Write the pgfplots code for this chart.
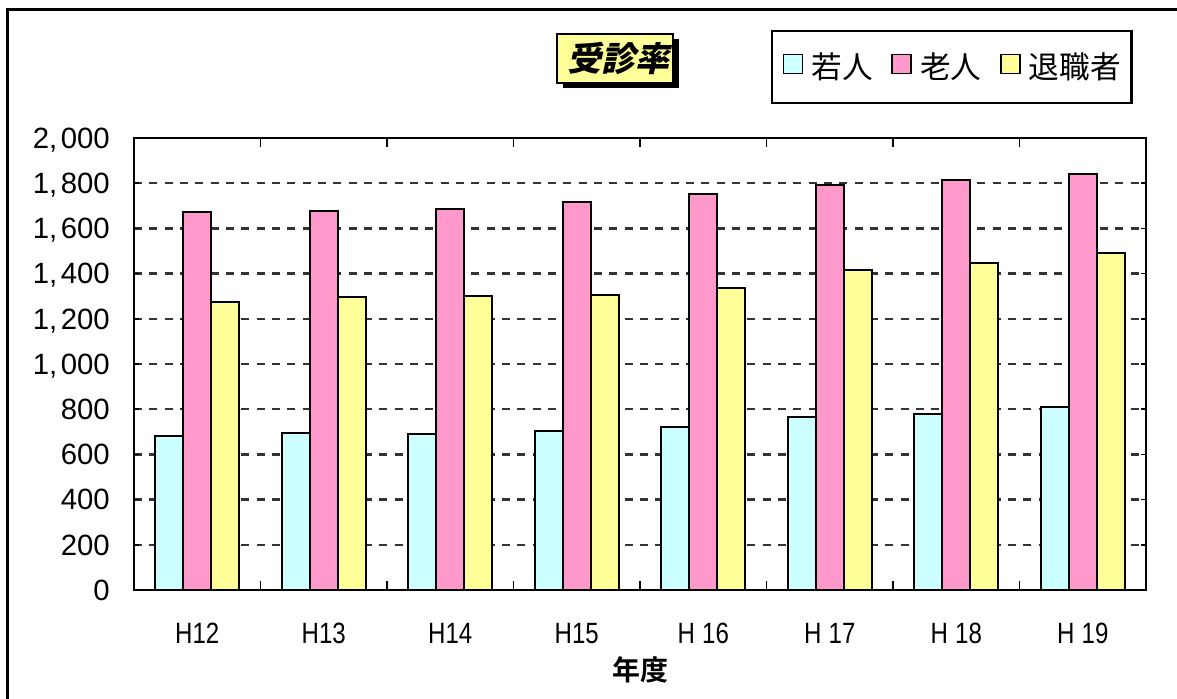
\documentclass[border=0pt]{standalone}
\usepackage{fontspec}
\usepackage{pgfplots}
\usepackage{pgfplotstable}
\pgfplotsset{compat=1.18}
\setmainfont{Liberation Sans}
\newfontfamily\cjk{Noto Sans CJK JP}
\newfontfamily\cjkb{Noto Sans CJK JP Bold}
\newfontfamily\cjkbi{Noto Sans CJK JP Black}[FakeSlant=0.22]
\newfontfamily\narrow{Liberation Sans}[FakeStretch=0.82]
\definecolor{cyanbar}{HTML}{CCFFFF}
\definecolor{pinkbar}{HTML}{FF99CC}
\definecolor{yellowbar}{HTML}{FFFF99}
\definecolor{gridgray}{HTML}{333333}

\pgfplotstableread{
idx young old retired
0 681 1671 1274
1 693 1677 1296
2 690 1686 1302
3 704 1716 1305
4 723 1754 1338
5 764 1794 1415
6 779 1815 1446
7 809 1840 1490
}\datatable

\newcommand{\cm}{,\hspace{0.12em}}
\begin{document}
\begin{tikzpicture}
\begin{scope}[x=0.75pt,y=-0.75pt]
\useasboundingbox (0,0) rectangle (1177,699);
\draw[line width=2.25pt] (7,720) -- (7,10) -- (1200,10);
\fill[black] (563,39) rectangle (679,88);
\draw[fill=yellowbar, line width=1.5pt] (557,34) rectangle (673,83);
\node at (618,58.5) {\cjkbi\fontsize{25.5pt}{27pt}\selectfont 受診率};
\end{scope}
\begin{axis}[
  at={(100.5pt,-442.5pt)}, anchor=south west,
  width=759pt, height=339pt, scale only axis,
  xmin=-0.5, xmax=7.5, ymin=0, ymax=2000,
  ybar, bar width=21pt,
  ytick={0,200,...,2000},
  yticklabels={0,200,400,600,800,{1\cm000},{1\cm200},{1\cm400},{1\cm600},{1\cm800},{2\cm000}},
  xtick={0,...,7},
  xticklabels={H12,H13,H14,H15,H\hspace{0.25em}16,H\hspace{0.25em}17,H\hspace{0.25em}18,H\hspace{0.25em}19},
  minor xtick={0.5,1.5,...,6.5},
  major x tick style={draw=none},
  tick align=inside,
  major tick length=4pt,
  minor tick length=6.5pt,
  tick style={black, line width=1.2pt},
  ymajorgrids,
  major grid style={gridgray, line width=1.7pt, dash pattern=on 6pt off 5.5pt},
  axis line style={black, line width=1.5pt},
  yticklabel style={font=\fontsize{22pt}{24pt}\selectfont, anchor=east, inner sep=0pt, xshift=-18pt, text depth=0pt},
  xticklabel style={font=\narrow\fontsize{22pt}{24pt}\selectfont, anchor=center, yshift=-32.25pt, inner sep=0pt, text depth=0pt},
  xlabel={\cjkb 年度},
  xlabel style={at={(axis description cs:0.5,-0.177)}, anchor=center, font=\fontsize{21pt}{23pt}\selectfont},
  legend columns=3,
  legend style={at={(0.6294,1.2389)}, anchor=north west, draw=black, line width=1.6pt,
    inner xsep=8pt, inner ysep=17pt, font=\cjk\fontsize{23pt}{25pt}\selectfont,
    nodes={inner sep=0pt, text height=0.88em, text depth=0.12em},
    /tikz/every odd column/.append style={column sep=6pt},
    /tikz/every even column/.append style={column sep=14pt}},
  legend image code/.code={\draw[#1, line width=1.3pt] (0pt,0pt) rectangle (14.25pt,14.25pt);},
]
\addplot[fill=cyanbar, draw=black, line width=1.5pt, bar shift=-21pt] table[x=idx,y=young]{\datatable};
\addlegendentry{若人}
\addplot[fill=pinkbar, draw=black, line width=1.5pt, bar shift=0pt] table[x=idx,y=old]{\datatable};
\addlegendentry{老人}
\addplot[fill=yellowbar, draw=black, line width=1.5pt, bar shift=21pt] table[x=idx,y=retired]{\datatable};
\addlegendentry{退職者}
\end{axis}
\end{tikzpicture}
\end{document}
